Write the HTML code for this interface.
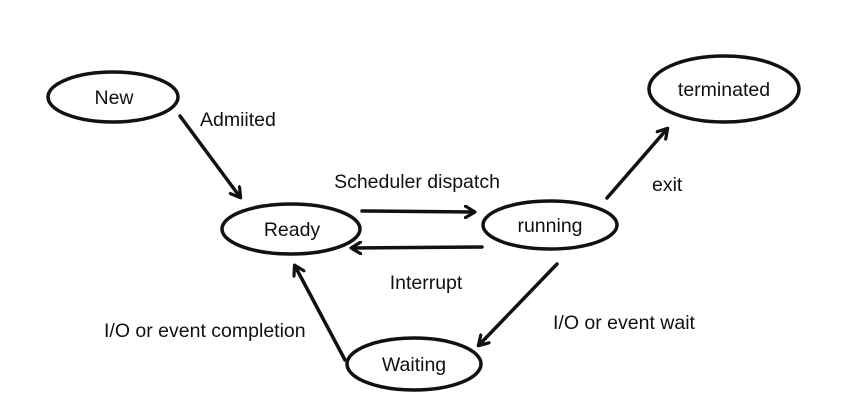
<!DOCTYPE html>
<html><head><meta charset="utf-8"><style>
html,body{margin:0;padding:0;background:#fff;}
svg{display:block;}
text{font-family:"Liberation Sans",Arial,sans-serif;font-size:19.5px;fill:#111;}
</style></head><body>
<svg width="849" height="414" viewBox="0 0 849 414" xmlns="http://www.w3.org/2000/svg">
<defs>
<marker id="ah" markerWidth="14" markerHeight="14" refX="10" refY="7" orient="auto" markerUnits="userSpaceOnUse">
<path d="M1,1 L11,7 L1,13" fill="none" stroke="#111" stroke-width="3.2" stroke-linecap="round" stroke-linejoin="round"/>
</marker>
</defs>
<g fill="none" stroke="#111" stroke-width="3.5">
<ellipse cx="113" cy="97" rx="65" ry="25"/>
<ellipse cx="724" cy="89" rx="75" ry="33"/>
<ellipse cx="291" cy="229" rx="69" ry="25"/>
<ellipse cx="550" cy="225" rx="67" ry="24"/>
<ellipse cx="414" cy="364" rx="67" ry="26"/>
</g>
<g stroke="#111" stroke-width="3.5" stroke-linecap="round" marker-end="url(#ah)">
<line x1="180" y1="116" x2="240" y2="197"/>
<line x1="362" y1="211" x2="474" y2="212"/>
<line x1="482" y1="247" x2="352" y2="248"/>
<line x1="607" y1="198" x2="667" y2="129"/>
<line x1="557" y1="264" x2="479" y2="345"/>
<line x1="345" y1="360" x2="295" y2="266"/>
</g>
<text x="114" y="104" text-anchor="middle">New</text>
<text x="724" y="96" text-anchor="middle">terminated</text>
<text x="292" y="236" text-anchor="middle">Ready</text>
<text x="550" y="232" text-anchor="middle">running</text>
<text x="414" y="371" text-anchor="middle">Waiting</text>
<text x="200" y="126">Admiited</text>
<text x="417" y="188" text-anchor="middle">Scheduler dispatch</text>
<text x="652" y="191">exit</text>
<text x="426" y="289" text-anchor="middle">Interrupt</text>
<text x="553" y="329">I/O or event wait</text>
<text x="104" y="337">I/O or event completion</text>
</svg>
</body></html>
